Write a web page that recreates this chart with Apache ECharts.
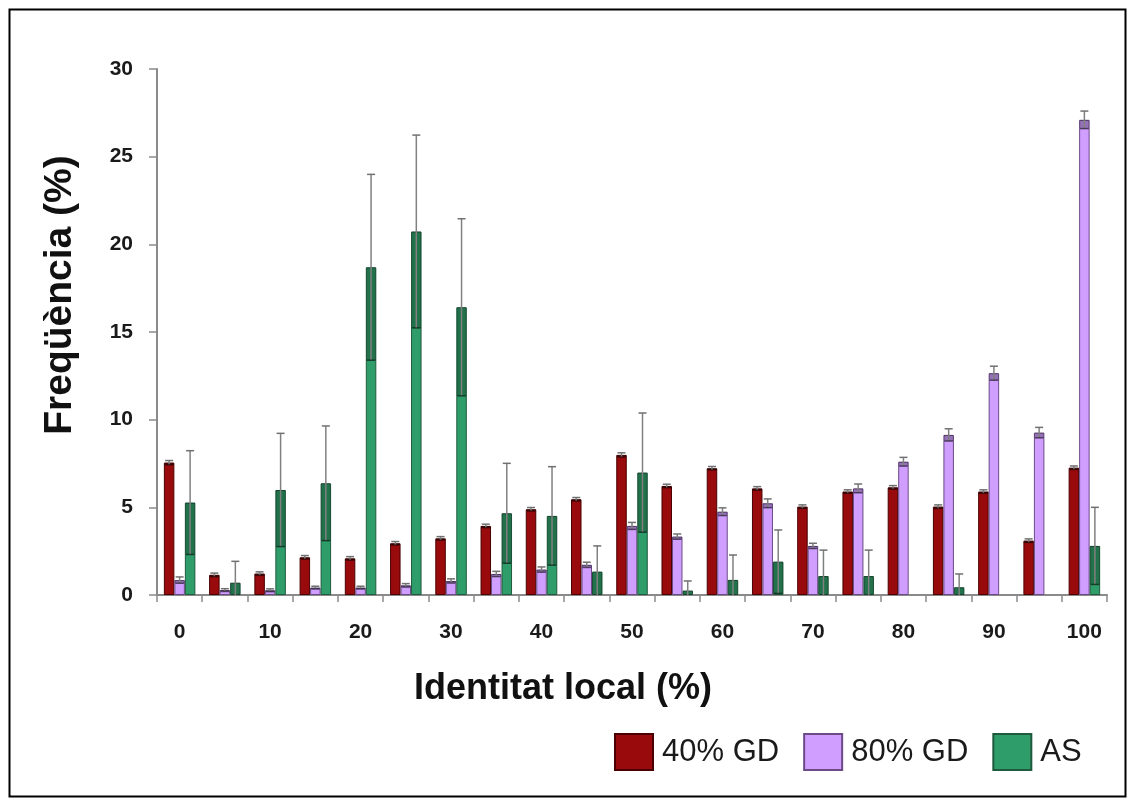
<!DOCTYPE html>
<html>
<head>
<meta charset="utf-8">
<script src="https://cdn.jsdelivr.net/npm/echarts@6/dist/echarts.min.js"></script>
<style>
  html, body { margin: 0; padding: 0; background: #fff; }
  #chart { width: 1134px; height: 807px; }
</style>
</head>
<body>
<div id="chart"></div>
<script>
// Local identity classes (%)
const categories = ['0','5','10','15','20','25','30','35','40','45','50','55','60','65','70','75','80','85','90','95','100'];

// Mean frequency (%) per class and its error
const gd40    = [7.55, 1.15, 1.22, 2.15, 2.09, 2.95, 3.23, 3.94, 4.89, 5.46, 7.99, 6.22, 7.23, 6.08, 5.04, 5.90, 6.14, 5.04, 5.90, 3.10, 7.26];
const gd40Err = [0.12, 0.10, 0.10, 0.10, 0.10, 0.10, 0.10, 0.10, 0.10, 0.10, 0.12, 0.10, 0.10, 0.10, 0.10, 0.10, 0.10, 0.10, 0.10, 0.10, 0.10];
const gd80    = [0.85, 0.28, 0.27, 0.42, 0.42, 0.55, 0.80, 1.20, 1.45, 1.72, 3.94, 3.33, 4.75, 5.23, 2.80, 6.08, 7.60, 9.13, 12.65, 9.26, 27.10];
const gd80Err = [0.18, 0.08, 0.08, 0.08, 0.08, 0.10, 0.12, 0.15, 0.15, 0.15, 0.20, 0.15, 0.22, 0.25, 0.15, 0.25, 0.25, 0.35, 0.40, 0.30, 0.50];
const asVals  = [5.27, 0.70, 5.99, 6.37, 18.69, 20.73, 16.41, 4.66, 4.51, 1.33, 6.98, 0.25, 0.86, 1.90, 1.08, 1.08, 0, 0.44, 0, 0, 2.80];
const asErr   = [2.96, 1.22, 3.23, 3.27, 5.30, 5.50, 5.05, 2.85, 2.81, 1.47, 3.40, 0.55, 1.42, 1.81, 1.48, 1.48, 0, 0.76, 0, 0, 2.20];

const seriesNames = ['40% GD', '80% GD', 'AS'];
const yTicks = { min: 0, max: 30, step: 5 };

const FONT = '"Liberation Sans", Arial, sans-serif';
const BAR_W = 10.5;

const fills   = ['#990a0c', '#cf9eff', '#2f9d69'];
const borders = ['#4a0000', '#6b4a86', '#1f5a3e'];

// Error whisker drawn over a bar: darkened band from value-err to value,
// grey line with caps spanning value-err .. value+err
function errorSeries(vals, errs, slot) {
  return {
    type: 'custom',
    silent: true,
    z: 5,
    data: vals.map((v, i) => [i, v, errs[i]]),
    renderItem: function (params, api) {
      const idx = api.value(0), v = api.value(1), e = api.value(2);
      if (!v || !e) return null;
      const pTop = api.coord([idx, v + e]);
      const pVal = api.coord([idx, v]);
      const lowV = Math.max(0, v - e);
      const pLow = api.coord([idx, lowV]);
      const cx = pVal[0] + (slot - 1) * BAR_W;
      const cap = 4;
      const children = [
        { type: 'rect', shape: { x: cx - BAR_W / 2 + 0.5, y: pVal[1], width: BAR_W - 1, height: pLow[1] - pVal[1] },
          style: { fill: 'rgba(0,0,0,0.28)' } },
        { type: 'line', shape: { x1: cx, y1: pTop[1], x2: cx, y2: pLow[1] },
          style: { stroke: '#808080', lineWidth: 1.5 } },
        { type: 'line', shape: { x1: cx - cap, y1: pTop[1], x2: cx + cap, y2: pTop[1] },
          style: { stroke: '#707070', lineWidth: 1.5 } }
      ];
      if (v - e > 0) {
        children.push({ type: 'line', shape: { x1: cx - BAR_W / 2 + 1, y1: pLow[1], x2: cx + BAR_W / 2 - 1, y2: pLow[1] },
          style: { stroke: 'rgba(0,0,0,0.55)', lineWidth: 1.5 } });
      }
      return { type: 'group', children: children };
    }
  };
}

const valueSets = [gd40, gd80, asVals];
const errSets = [gd40Err, gd80Err, asErr];

// Empty classes keep their zero value but draw no outline
const barSeries = seriesNames.map((name, k) => ({
  name: name,
  type: 'bar',
  data: valueSets[k].map(v => v === 0 ? { value: 0, itemStyle: { borderWidth: 0, opacity: 0 } } : v),
  barWidth: BAR_W,
  barGap: '0%',
  itemStyle: { color: fills[k], borderColor: borders[k], borderWidth: 1 }
}));

const chart = echarts.init(document.getElementById('chart'), null, { renderer: 'canvas' });
chart.setOption({
  animation: false,
  backgroundColor: '#ffffff',
  grid: { left: 157, right: 27, top: 69, bottom: 212, containLabel: false },
  legend: {
    data: seriesNames,
    left: 609, top: 728,
    itemWidth: 38, itemHeight: 36,
    itemGap: 24,
    icon: 'rect',
    textStyle: { fontFamily: FONT, fontSize: 31, color: '#1a1a1a', padding: [0, 0, 0, 4] }
  },
  xAxis: {
    type: 'category',
    data: categories,
    axisLine: { lineStyle: { color: '#8a8a8a', width: 2 } },
    axisTick: { show: true, interval: 0, length: 7, lineStyle: { color: '#8a8a8a', width: 1.5 } },
    axisLabel: { interval: 1, margin: 27, fontFamily: FONT, fontSize: 21, fontWeight: 'bold', color: '#1a1a1a' }
  },
  yAxis: {
    type: 'value',
    min: yTicks.min, max: yTicks.max, interval: yTicks.step,
    axisLine: { show: true, lineStyle: { color: '#8a8a8a', width: 2 } },
    axisTick: { show: true, length: 8, lineStyle: { color: '#8a8a8a', width: 1.5 } },
    splitLine: { show: false },
    axisLabel: { margin: 24, fontFamily: FONT, fontSize: 21, fontWeight: 'bold', color: '#1a1a1a' }
  },
  graphic: [
    { type: 'rect', shape: { x: 9.5, y: 9.5, width: 1116, height: 787 },
      style: { fill: null, stroke: '#000', lineWidth: 2 }, silent: true },
    { type: 'text', x: 563, y: 689,
      style: { text: 'Identitat local (%)', font: 'bold 36px ' + FONT, fill: '#111', align: 'center', verticalAlign: 'middle' } },
    { type: 'text', x: 60, y: 295, rotation: Math.PI / 2,
      style: { text: 'Freqüència (%)', font: 'bold 39px ' + FONT, fill: '#111', align: 'center', verticalAlign: 'middle' } }
  ],
  series: barSeries.concat(seriesNames.map((n, k) => errorSeries(valueSets[k], errSets[k], k)))
});
</script>
</body>
</html>
